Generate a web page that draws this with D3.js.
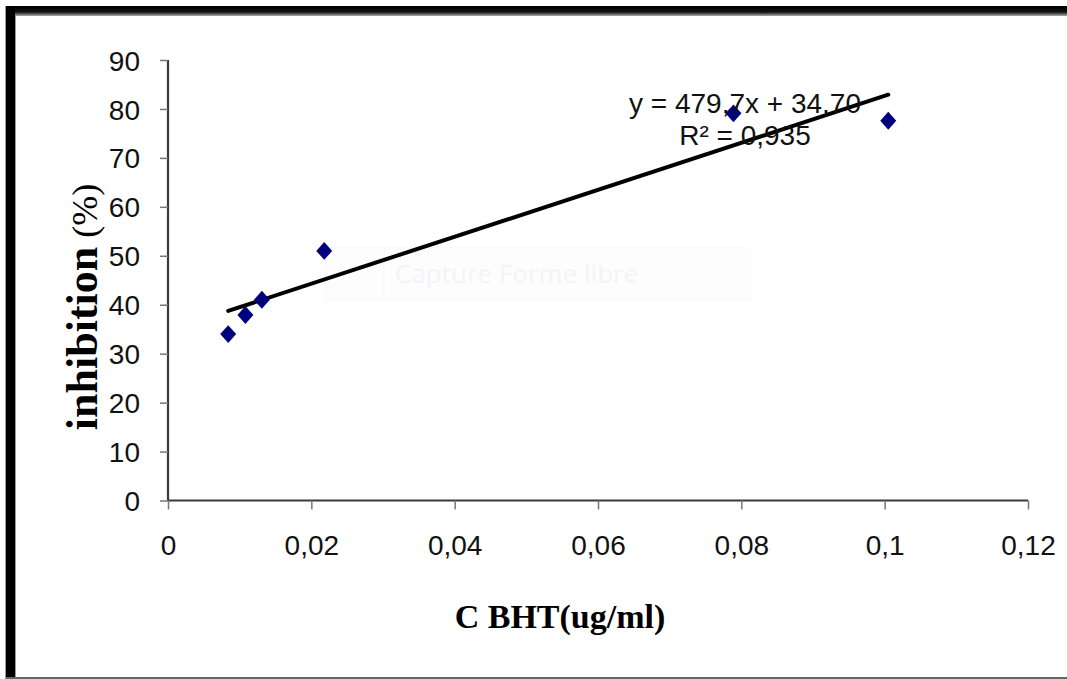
<!DOCTYPE html>
<html>
<head>
<meta charset="utf-8">
<script src="https://cdn.jsdelivr.net/npm/d3@7"></script>
<style>
  html, body { margin: 0; padding: 0; background: #fff; }
  svg { display: block; }
</style>
</head>
<body>
<svg id="chart" width="1067" height="679"></svg>
<script>
// ---- data ----
const concentrations = [0.0084, 0.0108, 0.0131, 0.0218, 0.0789, 0.1005];
const inhibition = [34.0, 37.9, 41.0, 51.0, 79.1, 77.6];
const trendSlope = 479.7;
const trendIntercept = 34.70;
const xTickValues = [0, 0.02, 0.04, 0.06, 0.08, 0.1, 0.12];
const xTickLabels = ["0", "0,02", "0,04", "0,06", "0,08", "0,1", "0,12"];
const yTickValues = [0, 10, 20, 30, 40, 50, 60, 70, 80, 90];
const yTickLabels = ["0", "10", "20", "30", "40", "50", "60", "70", "80", "90"];
const equationText = "y = 479,7x + 34,70";
const r2Text = "R² = 0,935";
const xTitle = "C BHT(ug/ml)";
const yTitleMain = "inhibition";
const yTitleUnit = " (%)";

const svg = d3.select("#chart");
const W = 1067, H = 679;

// ---- frame ----
svg.append("rect").attr("x", 0).attr("y", 0).attr("width", W).attr("height", H).attr("fill", "#fff");
const grad = svg.append("defs").append("linearGradient").attr("id", "topg").attr("x1", 0).attr("y1", 0).attr("x2", 0).attr("y2", 1);
grad.append("stop").attr("offset", "0%").attr("stop-color", "#000");
grad.append("stop").attr("offset", "60%").attr("stop-color", "#111");
grad.append("stop").attr("offset", "100%").attr("stop-color", "#aaa");
svg.append("rect").attr("x", 6).attr("y", 6).attr("width", W - 6).attr("height", 10).attr("fill", "url(#topg)");
svg.append("rect").attr("x", 6).attr("y", 6).attr("width", 9).attr("height", H - 6).attr("fill", "#000");
svg.append("rect").attr("x", 5).attr("y", 6).attr("width", 1).attr("height", H - 6).attr("fill", "#999");
svg.append("rect").attr("x", 15).attr("y", 16).attr("width", 1).attr("height", H - 16).attr("fill", "#999");
svg.append("rect").attr("x", 6).attr("y", 677).attr("width", W - 6).attr("height", 2).attr("fill", "#666");

// ---- faint watermark ----
svg.append("rect").attr("x", 326).attr("y", 248).attr("width", 424).attr("height", 52)
  .attr("fill", "#fdfdfe").attr("stroke", "#f6f6f8").attr("stroke-width", 1);
svg.append("line").attr("x1", 384).attr("x2", 384).attr("y1", 248).attr("y2", 300)
  .attr("stroke", "#f6f6f8").attr("stroke-width", 1);
svg.append("text").attr("x", 395).attr("y", 283).text("Capture Forme libre")
  .attr("font-family", "'Open Sans', sans-serif").attr("font-size", 26).attr("fill", "#f5f3f6");

// ---- scales ----
const x = d3.scaleLinear().domain([0, 0.12]).range([168, 1028]);
const y = d3.scaleLinear().domain([0, 90]).range([500.5, 60]);

const axisColor = "#3a3a3a";
const tickFont = "'Liberation Sans', Arial, sans-serif";

// y axis
const yAxis = svg.append("g").attr("transform", `translate(${x(0)},0)`)
  .call(d3.axisLeft(y).tickValues(yTickValues).tickFormat((d, i) => yTickLabels[i]).tickSize(8).tickPadding(20));
yAxis.select(".domain").attr("stroke", axisColor).attr("stroke-width", 2.2).attr("d", `M0,${y(90)}V${y(0)}`);
yAxis.selectAll(".tick line").attr("stroke", "#777").attr("stroke-width", 1.5);
yAxis.selectAll(".tick text").attr("font-family", tickFont).attr("font-size", 28).attr("fill", "#111").attr("dy", "0.36em");

// x axis
const xAxis = svg.append("g").attr("transform", `translate(0,${y(0)})`)
  .call(d3.axisBottom(x).tickValues(xTickValues).tickFormat((d, i) => xTickLabels[i]).tickSize(9).tickPadding(26));
xAxis.select(".domain").attr("stroke", axisColor).attr("stroke-width", 2.2).attr("d", `M${x(0)},0H${x(0.12)}`);
xAxis.selectAll(".tick line").attr("stroke", "#777").attr("stroke-width", 1.5);
xAxis.selectAll(".tick text").attr("font-family", tickFont).attr("font-size", 28).attr("fill", "#111").attr("dy", "0.71em");

// ---- trend line ----
const xMin = d3.min(concentrations), xMax = d3.max(concentrations);
const trend = [xMin, xMax].map(v => [v, trendSlope * v + trendIntercept]);
svg.append("path")
  .attr("d", d3.line().x(d => x(d[0])).y(d => y(d[1]))(trend))
  .attr("stroke", "#000").attr("stroke-width", 4).attr("fill", "none").attr("stroke-linecap", "round");

// ---- points ----
const diamond = {
  draw(ctx, size) {
    const hw = Math.sqrt(size) / 2, hh = hw * 1.12;
    ctx.moveTo(0, -hh); ctx.lineTo(hw, 0); ctx.lineTo(0, hh); ctx.lineTo(-hw, 0); ctx.closePath();
  }
};
svg.append("g").selectAll("path").data(concentrations).join("path")
  .attr("transform", (d, i) => `translate(${x(d)},${y(inhibition[i])})`)
  .attr("d", d3.symbol(diamond, 256)())
  .attr("fill", "#00007f");

// ---- equation ----
svg.append("text").attr("x", 745).attr("y", 113).attr("text-anchor", "middle")
  .attr("font-family", tickFont).attr("font-size", 28).attr("fill", "#111").text(equationText);
svg.append("text").attr("x", 745).attr("y", 145).attr("text-anchor", "middle")
  .attr("font-family", tickFont).attr("font-size", 28).attr("fill", "#111").text(r2Text);

// ---- axis titles ----
svg.append("text").attr("x", 560).attr("y", 628).attr("text-anchor", "middle")
  .attr("font-family", "'Liberation Serif', 'Times New Roman', serif").attr("font-weight", "bold")
  .attr("font-size", 34).attr("fill", "#000").text(xTitle);

const yt = svg.append("text").attr("transform", "translate(97,307) rotate(-90)").attr("text-anchor", "middle")
  .attr("font-family", "'Liberation Serif', 'Times New Roman', serif").attr("fill", "#000");
yt.append("tspan").attr("font-weight", "bold").attr("font-size", 44).text(yTitleMain);
yt.append("tspan").attr("font-weight", "normal").attr("font-size", 36).text(yTitleUnit);
</script>
</body>
</html>
